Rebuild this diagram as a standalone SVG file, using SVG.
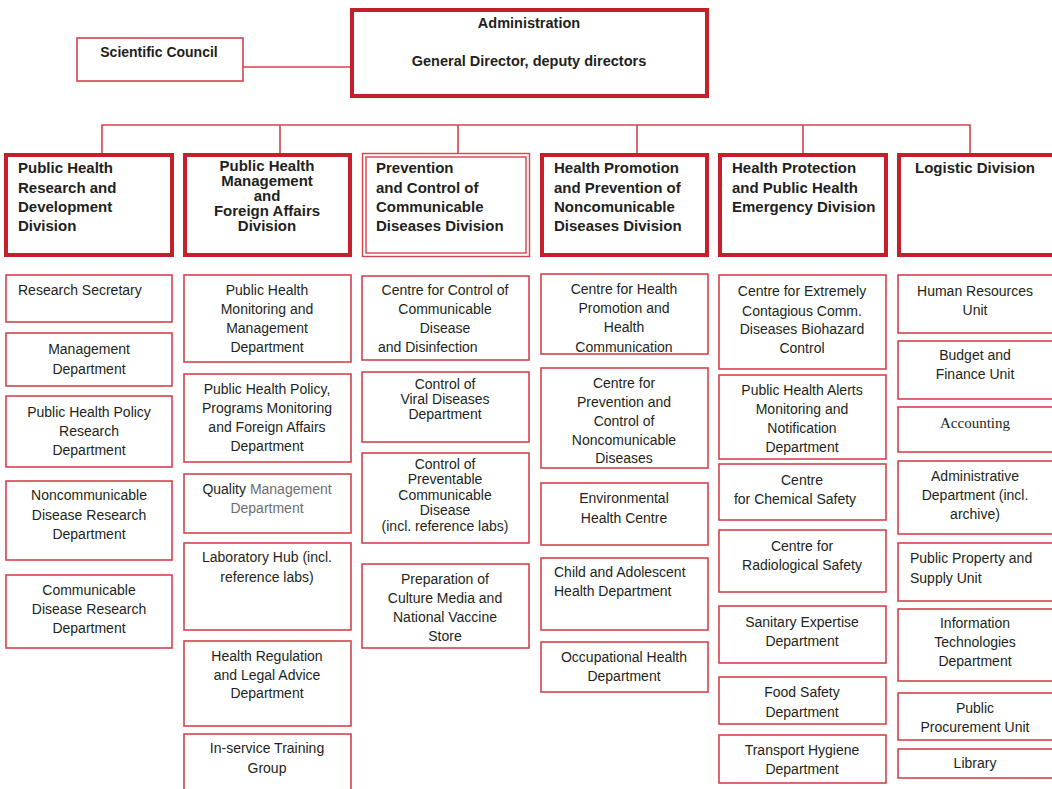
<svg xmlns="http://www.w3.org/2000/svg" width="1052" height="789" viewBox="0 0 1052 789">
<style>
.thick{fill:#fff;stroke:#c41f2b;stroke-width:4}
.thin{fill:#fff;stroke:#d6424d;stroke-width:1.6}
.dbl{fill:none;stroke:#d6424d;stroke-width:1.4}
.conn{fill:none;stroke:#d6424d;stroke-width:1.6}
text{font-family:"Liberation Sans",Arial,sans-serif;fill:#231f20}
.b{font-weight:bold;font-size:15px}
.t{font-size:14px}
.c{text-anchor:middle}
.g{fill:#6d6e71}
</style>
<rect width="1052" height="789" fill="#fff"/>
<g id="connectors">
<line class="conn" x1="243" y1="67" x2="352" y2="67"/>
<polyline class="conn" points="102,153 102,125 970,125 970,153"/>
<line class="conn" x1="280" y1="125" x2="280" y2="153"/>
<line class="conn" x1="458" y1="125" x2="458" y2="153"/>
<line class="conn" x1="637" y1="125" x2="637" y2="153"/>
<line class="conn" x1="803" y1="125" x2="803" y2="153"/>
</g>
<g id="administration">
<rect class="thick" x="352" y="10" width="355" height="86"/>
<text class="b c" style="font-size:14.5px" x="529" y="28">Administration</text>
<text class="b c" style="font-size:14.5px" x="529" y="66">General Director, deputy directors</text>
</g>
<g id="scientific-council">
<rect class="thin" x="77" y="38" width="166" height="43"/>
<text class="b c" style="font-size:14px" x="159" y="57">Scientific Council</text>
</g>
<g id="div-research">
<rect class="thick" x="6" y="155" width="166" height="100"/>
<text class="b"><tspan x="18" y="173">Public Health</tspan><tspan x="18" y="193">Research and</tspan><tspan x="18" y="212">Development</tspan><tspan x="18" y="231">Division</tspan></text>
</g>
<g id="div-management">
<rect class="thick" x="185" y="155" width="165" height="100"/>
<text class="b c"><tspan x="267" y="171">Public Health</tspan><tspan x="267" y="186">Management</tspan><tspan x="267" y="201">and</tspan><tspan x="267" y="216">Foreign Affairs</tspan><tspan x="267" y="231">Division</tspan></text>
</g>
<g id="div-communicable">
<rect class="dbl" x="362.5" y="153.5" width="167" height="103"/>
<rect class="dbl" x="366" y="157" width="160" height="96"/>
<text class="b"><tspan x="376" y="173">Prevention</tspan><tspan x="376" y="193">and Control of</tspan><tspan x="376" y="212">Communicable</tspan><tspan x="376" y="231">Diseases Division</tspan></text>
</g>
<g id="div-promotion">
<rect class="thick" x="542" y="155" width="165" height="100"/>
<text class="b"><tspan x="554" y="173">Health Promotion</tspan><tspan x="554" y="193">and Prevention of</tspan><tspan x="554" y="212">Noncomunicable</tspan><tspan x="554" y="231">Diseases Division</tspan></text>
</g>
<g id="div-protection">
<rect class="thick" x="720" y="155" width="166" height="100"/>
<text class="b"><tspan x="732" y="173">Health Protection</tspan><tspan x="732" y="193">and Public Health</tspan><tspan x="732" y="212">Emergency Division</tspan></text>
</g>
<g id="div-logistic">
<rect class="thick" x="899" y="155" width="170" height="100"/>
<text class="b c" x="975" y="173">Logistic Division</text>
</g>

<!-- column 1 -->
<g id="research-secretary"><rect class="thin" x="6" y="275" width="166" height="47"/>
<text class="t" x="18" y="295">Research Secretary</text></g>
<g id="management-dept"><rect class="thin" x="6" y="333" width="166" height="53"/>
<text class="t c"><tspan x="89" y="354">Management</tspan><tspan x="89" y="374">Department</tspan></text></g>
<g id="policy-research"><rect class="thin" x="6" y="396" width="166" height="71"/>
<text class="t c"><tspan x="89" y="417">Public Health Policy</tspan><tspan x="89" y="436">Research</tspan><tspan x="89" y="455">Department</tspan></text></g>
<g id="ncd-research"><rect class="thin" x="6" y="481" width="166" height="79"/>
<text class="t c"><tspan x="89" y="500">Noncommunicable</tspan><tspan x="89" y="520">Disease Research</tspan><tspan x="89" y="539">Department</tspan></text></g>
<g id="cd-research"><rect class="thin" x="6" y="575" width="166" height="73"/>
<text class="t c"><tspan x="89" y="595">Communicable</tspan><tspan x="89" y="614">Disease Research</tspan><tspan x="89" y="633">Department</tspan></text></g>

<!-- column 2 -->
<g id="monitoring-mgmt"><rect class="thin" x="184" y="275" width="167" height="87"/>
<text class="t c"><tspan x="267" y="295">Public Health</tspan><tspan x="267" y="314">Monitoring and</tspan><tspan x="267" y="333">Management</tspan><tspan x="267" y="352">Department</tspan></text></g>
<g id="policy-foreign"><rect class="thin" x="184" y="374" width="167" height="88"/>
<text class="t c"><tspan x="267" y="394">Public Health Policy,</tspan><tspan x="267" y="413">Programs Monitoring</tspan><tspan x="267" y="432">and Foreign Affairs</tspan><tspan x="267" y="451">Department</tspan></text></g>
<g id="quality-mgmt"><rect class="thin" x="184" y="474" width="167" height="59"/>
<text class="t c"><tspan x="267" y="494">Quality <tspan class="g">Management</tspan></tspan><tspan class="g" x="267" y="513">Department</tspan></text></g>
<g id="lab-hub"><rect class="thin" x="184" y="543" width="167" height="87"/>
<text class="t c"><tspan x="267" y="562">Laboratory Hub (incl.</tspan><tspan x="267" y="582">reference labs)</tspan></text></g>
<g id="health-regulation"><rect class="thin" x="184" y="641" width="167" height="85"/>
<text class="t c"><tspan x="267" y="661">Health Regulation</tspan><tspan x="267" y="680">and Legal Advice</tspan><tspan x="267" y="698">Department</tspan></text></g>
<g id="training-group"><rect class="thin" x="184" y="734" width="167" height="70"/>
<text class="t c"><tspan x="267" y="753">In-service Training</tspan><tspan x="267" y="773">Group</tspan></text></g>

<!-- column 3 -->
<g id="cd-disinfection"><rect class="thin" x="362" y="276" width="167" height="84"/>
<text class="t c"><tspan x="445" y="295">Centre for Control of</tspan><tspan x="445" y="314">Communicable</tspan><tspan x="445" y="333">Disease</tspan><tspan x="378" y="352" style="text-anchor:start">and Disinfection</tspan></text></g>
<g id="viral-diseases"><rect class="thin" x="362" y="372" width="167" height="70"/>
<text class="t c"><tspan x="445" y="389">Control of</tspan><tspan x="445" y="404">Viral Diseases</tspan><tspan x="445" y="419">Department</tspan></text></g>
<g id="preventable-cd"><rect class="thin" x="362" y="453" width="167" height="90"/>
<text class="t c"><tspan x="445" y="469">Control of</tspan><tspan x="445" y="484">Preventable</tspan><tspan x="445" y="500">Communicable</tspan><tspan x="445" y="515">Disease</tspan><tspan x="445" y="531">(incl. reference labs)</tspan></text></g>
<g id="vaccine-store"><rect class="thin" x="362" y="564" width="167" height="84"/>
<text class="t c"><tspan x="445" y="584">Preparation of</tspan><tspan x="445" y="603">Culture Media and</tspan><tspan x="445" y="622">National Vaccine</tspan><tspan x="445" y="641">Store</tspan></text></g>

<!-- column 4 -->
<g id="health-promotion-centre"><rect class="thin" x="541" y="274" width="167" height="80"/>
<text class="t c"><tspan x="624" y="294">Centre for Health</tspan><tspan x="624" y="313">Promotion and</tspan><tspan x="624" y="332">Health</tspan><tspan x="624" y="352">Communication</tspan></text></g>
<g id="ncd-centre"><rect class="thin" x="541" y="368" width="167" height="100"/>
<text class="t c"><tspan x="624" y="388">Centre for</tspan><tspan x="624" y="407">Prevention and</tspan><tspan x="624" y="426">Control of</tspan><tspan x="624" y="445">Noncomunicable</tspan><tspan x="624" y="463">Diseases</tspan></text></g>
<g id="environmental-health"><rect class="thin" x="541" y="483" width="167" height="62"/>
<text class="t c"><tspan x="624" y="503">Environmental</tspan><tspan x="624" y="523">Health Centre</tspan></text></g>
<g id="child-health"><rect class="thin" x="541" y="558" width="167" height="72"/>
<text class="t"><tspan x="554" y="577">Child and Adolescent</tspan><tspan x="554" y="596">Health Department</tspan></text></g>
<g id="occupational-health"><rect class="thin" x="541" y="642" width="167" height="50"/>
<text class="t c"><tspan x="624" y="662">Occupational Health</tspan><tspan x="624" y="681">Department</tspan></text></g>

<!-- column 5 -->
<g id="biohazard-centre"><rect class="thin" x="719" y="275" width="167" height="94"/>
<text class="t c"><tspan x="802" y="296">Centre for Extremely</tspan><tspan x="802" y="316">Contagious Comm.</tspan><tspan x="802" y="334">Diseases Biohazard</tspan><tspan x="802" y="353">Control</tspan></text></g>
<g id="alerts-dept"><rect class="thin" x="719" y="375" width="167" height="84"/>
<text class="t c"><tspan x="802" y="395">Public Health Alerts</tspan><tspan x="802" y="414">Monitoring and</tspan><tspan x="802" y="433">Notification</tspan><tspan x="802" y="452">Department</tspan></text></g>
<g id="chemical-safety"><rect class="thin" x="719" y="464" width="167" height="56"/>
<text class="t c"><tspan x="802" y="485">Centre</tspan><tspan x="795" y="504">for Chemical Safety</tspan></text></g>
<g id="radiological-safety"><rect class="thin" x="719" y="530" width="167" height="62"/>
<text class="t c"><tspan x="802" y="551">Centre for</tspan><tspan x="802" y="570">Radiological Safety</tspan></text></g>
<g id="sanitary-expertise"><rect class="thin" x="719" y="606" width="167" height="57"/>
<text class="t c"><tspan x="802" y="627">Sanitary Expertise</tspan><tspan x="802" y="646">Department</tspan></text></g>
<g id="food-safety"><rect class="thin" x="719" y="677" width="167" height="47"/>
<text class="t c"><tspan x="802" y="697">Food Safety</tspan><tspan x="802" y="717">Department</tspan></text></g>
<g id="transport-hygiene"><rect class="thin" x="719" y="735" width="167" height="48"/>
<text class="t c"><tspan x="802" y="755">Transport Hygiene</tspan><tspan x="802" y="774">Department</tspan></text></g>

<!-- column 6 -->
<g id="human-resources"><rect class="thin" x="898" y="275" width="170" height="58"/>
<text class="t c"><tspan x="975" y="296">Human Resources</tspan><tspan x="975" y="315">Unit</tspan></text></g>
<g id="budget-finance"><rect class="thin" x="898" y="341" width="170" height="58"/>
<text class="t c"><tspan x="975" y="360">Budget and</tspan><tspan x="975" y="379">Finance Unit</tspan></text></g>
<g id="accounting"><rect class="thin" x="898" y="407" width="170" height="45"/>
<text class="c" style="font-family:'Liberation Serif',serif;font-size:15px" x="975" y="428">Accounting</text></g>
<g id="administrative-dept"><rect class="thin" x="898" y="461" width="170" height="73"/>
<text class="t c"><tspan x="975" y="481">Administrative</tspan><tspan x="975" y="500">Department (incl.</tspan><tspan x="975" y="519">archive)</tspan></text></g>
<g id="property-supply"><rect class="thin" x="898" y="543" width="170" height="58"/>
<text class="t"><tspan x="910" y="563">Public Property and</tspan><tspan x="910" y="583">Supply Unit</tspan></text></g>
<g id="it-dept"><rect class="thin" x="898" y="609" width="170" height="72"/>
<text class="t c"><tspan x="975" y="628">Information</tspan><tspan x="975" y="647">Technologies</tspan><tspan x="975" y="666">Department</tspan></text></g>
<g id="procurement"><rect class="thin" x="898" y="693" width="170" height="47"/>
<text class="t c"><tspan x="975" y="713">Public</tspan><tspan x="975" y="732">Procurement Unit</tspan></text></g>
<g id="library"><rect class="thin" x="898" y="749" width="170" height="29"/>
<text class="t c" x="975" y="768">Library</text></g>
</svg>
